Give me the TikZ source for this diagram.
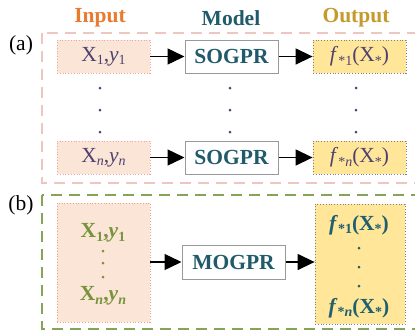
\documentclass[tikz,border=0pt]{standalone}
\usepackage{fontspec}
\setmainfont{Liberation Serif}
\usetikzlibrary{arrows.meta}
\definecolor{inorange}{HTML}{E97A2E}
\definecolor{modteal}{HTML}{215A6A}
\definecolor{outgold}{HTML}{C49A2C}
\definecolor{pinkdash}{HTML}{EEC6C0}
\definecolor{greendash}{HTML}{86A457}
\definecolor{peach}{HTML}{FBE5D6}
\definecolor{peachline}{HTML}{EBA8A0}
\definecolor{yel}{HTML}{FFE699}
\definecolor{purp}{HTML}{4E4270}
\definecolor{grtext}{HTML}{77933C}
\definecolor{tealtext}{HTML}{1F5F6F}
\newcommand{\lsub}[1]{\raisebox{-0.35ex}{\fontsize{14}{14}\selectfont #1}}
\tikzset{
  big/.style={font=\fontsize{21.5}{24}\selectfont},
  title/.style={font=\fontsize{21.5}{24}\selectfont\bfseries},
  inbox/.style={draw=peachline, dotted, line width=0.8pt, fill=peach, minimum width=93pt, minimum height=33pt, inner sep=0pt, text=purp, big},
  modbox/.style={draw=gray!80, line width=1pt, fill=white, minimum width=93pt, minimum height=33pt, inner sep=0pt, text=modteal, title},
  outbox/.style={draw=gray, dotted, line width=0.8pt, fill=yel, minimum width=93pt, minimum height=33pt, inner sep=0pt, text=purp, big},
  dotn/.style={circle, fill=purp, inner sep=0pt, minimum size=3pt},
  arr/.style={line width=1.4pt, -{Triangle[length=17pt,width=16pt]}},
  txt/.style={inner sep=0pt, big},
  boldtxt/.style={inner sep=0pt, title},
}
\begin{document}
\begin{tikzpicture}[x=1pt,y=-1pt]
\useasboundingbox (0,0) rectangle (415,330);
\begin{scope}
\clip (0,0) rectangle (415,330);
\draw[pinkdash, line width=1.5pt, dash pattern=on 11pt off 7pt] (42,33) rectangle (440,183);
\draw[greendash, line width=1.8pt, dash pattern=on 11pt off 7pt] (42,195) rectangle (440,329);
\end{scope}
% titles
\node[title, text=inorange] (tin) at (100,18) {Input};
\node[title, text=modteal] (tmod) at (231,18) {Model};
\node[title, text=outgold] (tout) at (356,18) {Output};
\node[txt] (la) at (21,45) {(a)};
\node[txt] (lb) at (21,205) {(b)};
% (a) row 1
\node[inbox] (in1) at (103.5,56.5) {X\lsub{1},\textit{y}\lsub{1}};
\node[modbox] (m1) at (231.5,56.5) {SOGPR};
\node[outbox] (o1) at (359.5,56.5) {\textit{f}\lsub{*1}(X\lsub{*})};
% (a) row n
\node[inbox] (inn) at (103.5,157.5) {X\lsub{\textit{n}},\textit{y}\lsub{\textit{n}}};
\node[modbox] (mn) at (231.5,157.5) {SOGPR};
\node[outbox] (on) at (359.5,157.5) {\textit{f}\lsub{*\textit{n}}(X\lsub{*})};
\draw[arr] (in1) -- (m1);
\draw[arr] (m1) -- (o1);
\draw[arr] (inn) -- (mn);
\draw[arr] (mn) -- (on);
% dots (a)
\foreach \x/\n in {100/a,230/b,356/c}{
  \node[dotn] (d\n1) at (\x,88) {};
  \node[dotn] (d\n2) at (\x,110) {};
  \node[dotn] (d\n3) at (\x,132) {};
}
% (b)
\node[draw=peachline!80!orange, dotted, line width=0.8pt, fill=peach, minimum width=93pt, minimum height=119pt, inner sep=0pt] (bin) at (103.5,262.5) {};
\node[modbox, minimum width=103pt, minimum height=34pt] (bm) at (233.5,262) {MOGPR};
\node[draw=gray, dotted, line width=0.8pt, fill=yel, minimum width=90pt, minimum height=120pt, inner sep=0pt] (bout) at (360,264) {};
\draw[arr] (bin.east |- bm) -- (bm);
\draw[arr] (bm) -- (bout.west |- bm);
\node[boldtxt, text=grtext] (bx1) at (103,233) {X\lsub{1},\textit{y}\lsub{1}};
\node[boldtxt, text=grtext] (bxn) at (103,296) {X\lsub{\textit{n}},\textit{y}\lsub{\textit{n}}};
\foreach \y/\n in {251/1,263/2,277/3}{
  \node[dotn, fill=grtext] (bdi\n) at (103,\y) {};
}
\node[boldtxt, text=tealtext] (bf1) at (359,225) {\textit{f}\lsub{*1}(X\lsub{*})};
\node[boldtxt, text=tealtext] (bfn) at (359,308) {\textit{f}\lsub{*\textit{n}}(X\lsub{*})};
\foreach \y/\n in {248/1,267/2,286/3}{
  \node[dotn, fill=tealtext] (bdo\n) at (359,\y) {};
}
\end{tikzpicture}
\end{document}
